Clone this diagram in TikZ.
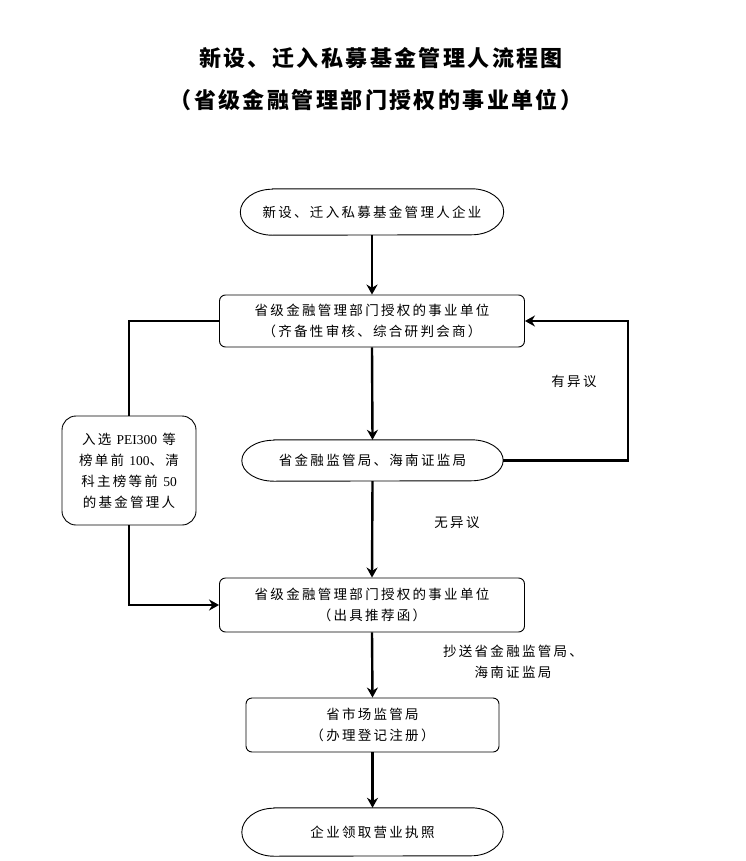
\documentclass[tikz,border=0pt]{standalone}
\usepackage{fontspec}
\setmainfont{Noto Sans CJK SC}
\newfontfamily\latin{Liberation Serif}
\usepackage{tikz}
\usetikzlibrary{arrows.meta,calc,positioning}

\newcommand{\body}{\fontsize{13.5}{21}\selectfont\addfontfeature{LetterSpace=17}}
\newcommand{\drawterm}[2]{%
  \draw[termline] ([xshift=32pt]#1.north west) -- ([xshift=-32pt]#1.north east)
    arc[start angle=90,end angle=-90,x radius=32pt,y radius=#2pt]
    -- ([xshift=32pt]#1.south west)
    arc[start angle=270,end angle=90,x radius=32pt,y radius=#2pt] -- cycle;}

\begin{document}
\begin{tikzpicture}[x=1pt,y=1pt,
    termtext/.style={inner sep=0pt, font=\body},
    procbox/.style={draw, line width=0.9pt, rounded corners=6pt, align=center,
      inner sep=0pt, font=\body},
    termline/.style={line width=0.9pt},
    flow/.style={line width=2.4pt, -{Stealth[length=10pt,width=11pt]}},
    link/.style={line width=2.4pt},
    note/.style={font=\body},
    headline/.style={font=\fontsize{22}{28}\selectfont\bfseries\addfontfeature{LetterSpace=11}}]
      % Canvas
      \useasboundingbox (0,0) rectangle (746,-861);
      % Title
      \node[headline] (title1) at (381,-58) {新设、迁入私募基金管理人流程图};
      \node[headline] (title2) at (376,-100) {（省级金融管理部门授权的事业单位）};
      % Steps
      \node[termtext, minimum width=263pt, minimum height=46pt] (start) at (372,-212) {新设、迁入私募基金管理人企业};
      \drawterm{start}{23}
      \node[procbox, minimum width=305pt, minimum height=52pt] (check) at (372,-321) {省级金融管理部门授权的事业单位\\（齐备性审核、综合研判会商）};
      \node[termtext, minimum width=261pt, minimum height=41pt] (csrc) at (372.5,-460.5) {省金融监管局、海南证监局};
      \drawterm{csrc}{20.5}
      \node[procbox, rounded corners=14pt, minimum width=134pt, minimum height=109pt] (pe) at (129,-470.5) {入选 {\latin PEI300} 等\\榜单前 {\latin 100}、清\\科主榜等前 {\latin 50}\\的基金管理人};
      \node[procbox, minimum width=305pt, minimum height=54pt] (recom) at (372,-605) {省级金融管理部门授权的事业单位\\（出具推荐函）};
      \node[procbox, minimum width=253pt, minimum height=54pt] (market) at (372.5,-725) {省市场监管局\\（办理登记注册）};
      \node[termtext, minimum width=261pt, minimum height=48pt] (licence) at (372.5,-832) {企业领取营业执照};
      \drawterm{licence}{24}
      % Main flow
      \draw[flow] (start.south) -- (check.north);
      \draw[flow] (check.south) -- (csrc.north);
      \draw[flow] (csrc.south) -- (recom.north);
      \draw[flow] (recom.south) -- (market.north);
      \draw[flow] (market.south) -- (licence.north);
      % Objection loop
      \draw[flow] (csrc.east) -- ++(125,0) |- (check.east);
      \node[note] (objyes) at (574,-381) {有异议};
      \node[note] (objno) at (457,-523) {无异议};
      \node[note, align=center] (copyto) at (513,-662) {抄送省金融监管局、\\海南证监局};
      % Fast track
      \draw[link] (check.west) -| (pe.north);
      \draw[flow] (pe.south) |- (recom.west);
    \end{tikzpicture}
\end{document}
